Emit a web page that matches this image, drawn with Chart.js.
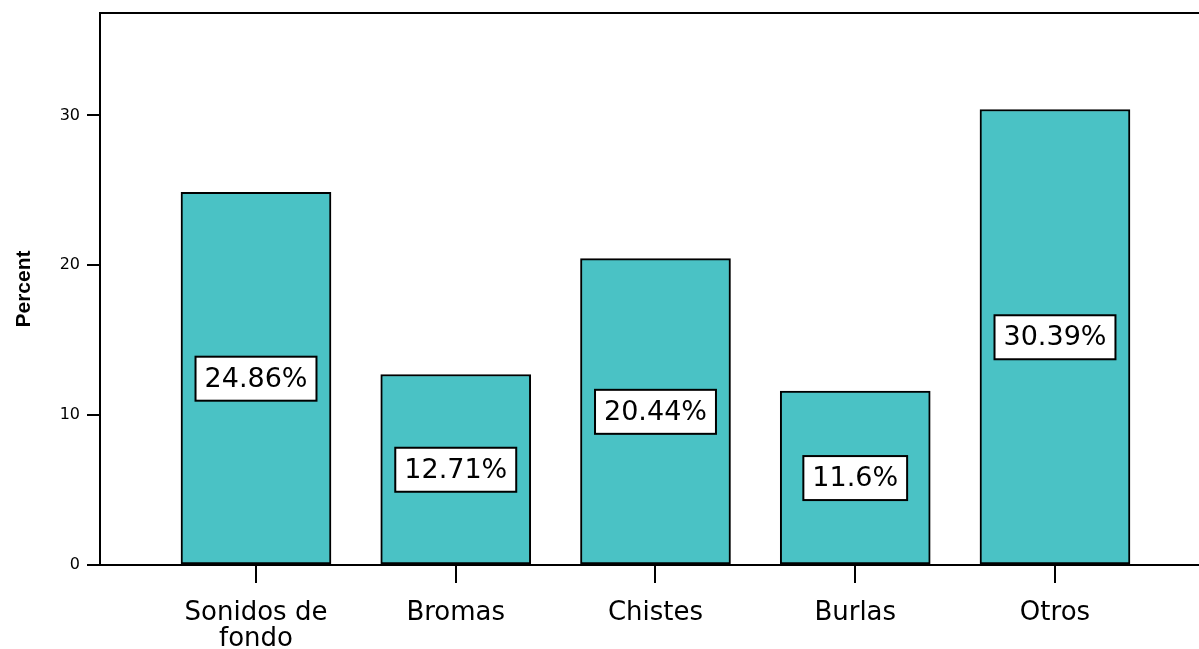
<!DOCTYPE html>
<html>
<head>
<meta charset="utf-8">
<script src="https://cdn.jsdelivr.net/npm/chart.js@4/dist/chart.umd.min.js"></script>
<style>
body{margin:0;background:#fff}
#wrap{width:1199px;height:649px}
</style>
</head>
<body>
<div id="wrap"><canvas id="chart"></canvas></div>
<script>

// DATA

const categories=[["Sonidos de","fondo"],"Bromas","Chistes","Burlas","Otros"]
const percents=[24.86,12.71,20.44,11.6,30.39]
const yTicks=[0,10,20,30]


// value boxes in the middle of each bar

const boxLabels={
id:"boxLabels",
afterDatasetsDraw(chart){
const ctx=chart.ctx
const y=chart.scales.y
ctx.save()
ctx.font='27px "DejaVu Sans"'
ctx.textAlign="center"
ctx.textBaseline="middle"
chart.getDatasetMeta(0).data.forEach((bar,i)=>{
const txt=percents[i]+"%"
const w=ctx.measureText(txt).width+18
const h=44
const cy=y.getPixelForValue(percents[i]/2)
ctx.fillStyle="#fff"
ctx.fillRect(bar.x-w/2,cy-h/2,w,h)
ctx.lineWidth=2
ctx.strokeStyle="#000"
ctx.strokeRect(bar.x-w/2,cy-h/2,w,h)
ctx.fillStyle="#000"
ctx.fillText(txt,bar.x,cy+1)
})
ctx.restore()
}
}

// top frame line

const topLine={
id:"topLine",
afterDraw(chart){
const {ctx,chartArea}=chart
ctx.save()
ctx.strokeStyle="#000"
ctx.lineWidth=2
ctx.beginPath()
ctx.moveTo(chartArea.left-1,chartArea.top)
ctx.lineTo(chartArea.right,chartArea.top)
ctx.stroke()
ctx.restore()
}
}

new Chart(document.getElementById("chart"),{
type:"bar",
data:{
datasets:[{
data:percents.map((v,i)=>({x:i,y:v})),
backgroundColor:"#4AC2C5",
borderColor:"#000",
borderWidth:2,
borderSkipped:false,
barThickness:150
}]
},
options:{
responsive:true,
maintainAspectRatio:false,
animation:false,
layout:{padding:{top:13,right:0,bottom:0,left:0}},
plugins:{legend:{display:false},tooltip:{enabled:false}},
scales:{
x:{
type:"linear",
min:-0.781,
max:4.721,
offset:false,
grid:{offset:false,drawOnChartArea:false,drawTicks:true,tickLength:18,color:"#000",lineWidth:2},
border:{color:"#000",width:2},
afterBuildTicks:s=>{s.ticks=categories.map((c,i)=>({value:i}))},
afterFit:s=>{s.height=84;s.paddingLeft=0;s.paddingRight=0},
ticks:{
autoSkip:false,
maxRotation:0,
padding:17,
color:"#000",
font:{family:"DejaVu Sans",size:26,lineHeight:1},
callback:v=>categories[v]
}
},
y:{
min:0,
max:36.83,
grid:{drawOnChartArea:false,drawTicks:true,tickLength:13,color:"#000",lineWidth:2},
border:{color:"#000",width:2},
afterBuildTicks:s=>{s.ticks=yTicks.map(v=>({value:v}))},
afterFit:s=>{s.width=100;s.paddingTop=0;s.paddingBottom=0},
ticks:{
padding:7,
color:"#000",
font:{family:"DejaVu Sans",size:16}
},
title:{
display:true,
text:"Percent",
color:"#000",
padding:{top:12,bottom:0},
font:{family:"'Liberation Sans Narrow', 'Liberation Sans', sans-serif",size:21,weight:"bold"}
}
}
}
},
plugins:[boxLabels,topLine]
})

</script>
</body>
</html>
